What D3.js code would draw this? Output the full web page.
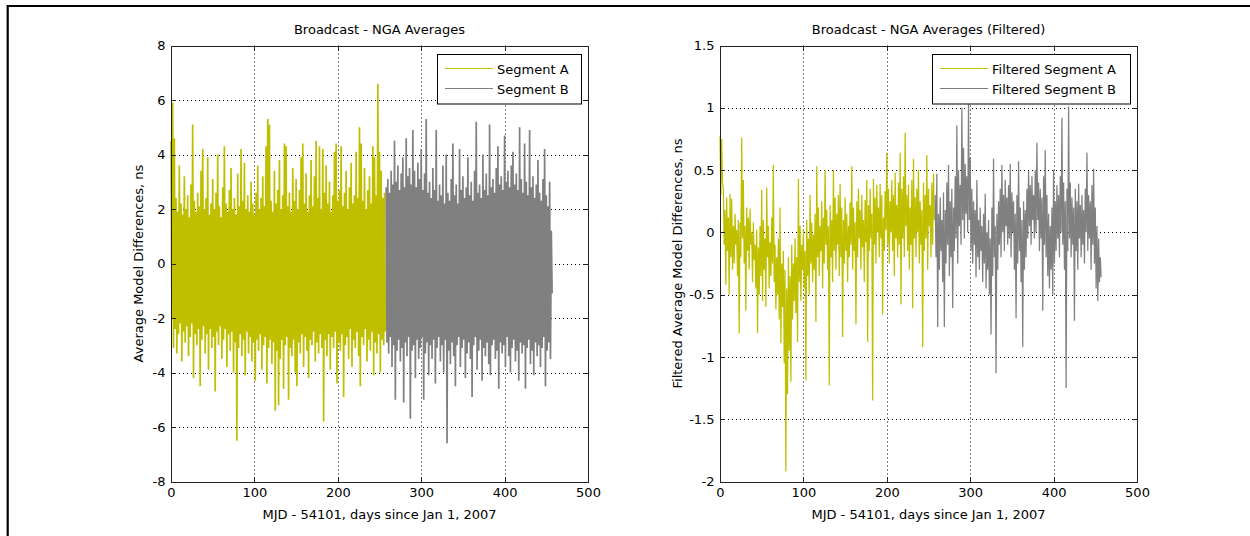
<!DOCTYPE html>
<html lang="en">
<head>
<meta charset="UTF-8">
<title>Broadcast - NGA Averages</title>
<script src="https://d3js.org/d3.v7.min.js"></script>
<style>
  body { margin: 0; background: #fff; }
  svg { display: block; font-family: "DejaVu Sans", sans-serif; }
  .grid line { stroke: #000; stroke-width: 1; stroke-dasharray: 1,3; }
  .axis path, .axis line { stroke: #222; shape-rendering: crispEdges; }
  .axis text { font-size: 13px; fill: #000; font-family: "DejaVu Sans", sans-serif; }
</style>
</head>
<body>
<svg id="chart" width="1250" height="536"></svg>
<script>
// days of each 2-day bin (bin start); each bin keeps its high and low reading
const segADays = d3.range(0, 257, 2);    // 129 bins
const segBDays = d3.range(258, 457, 2);  // 100 bins

const xTicks = [0, 100, 200, 300, 400, 500];
const yTicksLeft = [-8, -6, -4, -2, 0, 2, 4, 6, 8];
const yTicksRight = [-2, -1.5, -1, -0.5, 0, 0.5, 1, 1.5];

// Broadcast - NGA averages, segment A (high / low per bin), ns
const segAHi = [4.5,5.9,4.6,2.4,1.9,3.6,2.2,1.8,3.2,2.0,2.5,1.7,2.9,5.1,2.3,1.9,2.6,2.1,3.4,4.2,
  2.0,2.4,3.9,1.8,2.2,3.1,2.0,2.6,4.0,2.1,1.7,2.8,4.3,2.2,1.9,2.7,3.5,2.0,2.4,1.8,
  3.3,2.1,4.2,2.3,3.7,2.0,2.5,1.9,3.0,2.2,1.8,2.6,3.6,2.0,2.4,3.2,2.1,4.3,5.3,5.1,
  2.3,1.9,3.4,2.2,2.7,3.8,2.0,2.5,4.4,4.3,2.1,2.6,1.9,3.5,2.3,3.1,2.0,2.7,3.9,4.4,
  2.2,3.3,1.9,2.5,3.8,2.1,3.2,4.5,2.4,4.3,2.0,4.2,2.6,3.6,2.2,3.0,1.9,2.5,4.1,4.4,
  2.3,2.7,4.3,2.1,2.6,3.4,2.0,2.8,3.7,2.2,2.5,4.1,2.4,5.0,4.4,2.3,3.5,2.0,2.7,3.2,
  2.2,4.3,3.9,2.5,6.6,4.1,3.4,2.4,2.6];
const segALo = [-2.0,-3.1,-2.4,-3.3,-2.6,-2.2,-3.6,-2.5,-2.9,-2.3,-3.4,-2.7,-2.2,-4.2,-2.6,-3.0,-2.4,-4.5,-2.8,-2.3,
  -3.3,-2.6,-3.9,-2.4,-3.1,-2.7,-4.7,-2.5,-3.0,-2.3,-3.5,-2.8,-2.4,-3.8,-2.6,-3.2,-2.5,-4.0,-2.9,-6.5,
  -3.1,-2.6,-3.4,-2.8,-4.1,-2.5,-3.3,-2.7,-3.6,-2.9,-4.3,-2.8,-3.2,-2.6,-3.9,-3.0,-2.7,-4.4,-3.1,-2.8,
  -3.7,-2.9,-5.4,-3.2,-5.2,-3.5,-2.8,-4.6,-3.0,-2.7,-5.0,-3.1,-3.4,-2.8,-4.0,-4.5,-2.9,-3.3,-2.6,-3.8,
  -2.7,-3.2,-4.2,-2.8,-3.0,-2.5,-3.6,-2.9,-3.3,-2.6,-3.1,-5.8,-2.8,-3.4,-2.6,-3.9,-2.7,-3.1,-2.5,-4.4,
  -2.9,-3.2,-2.6,-4.9,-3.0,-2.7,-3.5,-2.4,-3.8,-2.8,-3.1,-2.5,-3.4,-4.5,-2.7,-3.0,-2.4,-3.6,-2.8,-3.2,
  -2.5,-4.1,-2.9,-3.3,-2.6,-4.0,-2.8,-3.0,-2.5];

// segment B
const segBHi = [2.8,3.1,2.6,3.4,2.9,4.5,3.0,3.6,2.7,3.3,3.9,2.8,4.6,3.2,3.5,2.9,4.9,3.4,2.8,3.7,
  3.1,4.2,2.7,3.3,5.3,2.6,3.0,2.4,3.5,2.7,4.9,2.3,2.9,2.5,3.6,2.2,4.0,2.6,2.3,3.1,
  4.4,2.5,2.9,2.2,4.2,2.7,3.2,2.4,2.8,3.9,2.5,3.0,2.3,3.4,5.2,2.6,2.9,2.4,4.0,2.7,
  3.3,2.5,5.1,2.8,3.1,2.6,3.5,4.3,2.9,3.2,2.7,4.7,3.0,3.4,2.8,3.6,4.1,2.9,3.3,2.7,
  5.0,3.1,2.6,4.4,3.0,2.5,4.9,2.8,3.2,2.4,2.9,3.8,2.6,2.3,3.1,4.2,2.5,2.1,3.0,1.2];
const segBLo = [-2.9,-3.3,-2.7,-3.8,-3.0,-5.0,-3.2,-2.8,-3.6,-3.1,-5.1,-2.9,-3.4,-2.7,-5.7,-3.2,-3.0,-4.2,-2.8,-3.5,
  -3.1,-2.7,-5.0,-3.3,-2.9,-4.1,-3.0,-3.5,-2.8,-4.4,-3.1,-2.7,-3.6,-3.0,-4.0,-2.8,-6.6,-3.2,-3.7,-2.9,
  -3.4,-4.5,-3.0,-2.7,-3.8,-3.1,-2.8,-4.2,-3.3,-2.9,-3.5,-4.9,-3.0,-2.7,-3.9,-3.2,-2.8,-4.3,-3.1,-3.4,
  -2.9,-3.7,-4.1,-3.0,-2.8,-3.5,-3.2,-4.6,-2.9,-3.3,-3.0,-3.8,-2.7,-3.4,-4.0,-3.1,-2.8,-3.6,-3.2,-4.3,
  -2.9,-3.3,-3.0,-4.6,-3.1,-2.8,-3.7,-3.2,-4.1,-2.9,-3.4,-3.0,-3.8,-3.1,-2.7,-4.5,-3.2,-2.9,-3.5,-1.1];

// filtered segment A
const filtAHi = [0.77,0.75,0.35,0.18,0.28,0.12,0.31,0.27,0.05,0.15,0.02,0.10,0.08,0.76,0.42,0.05,0.20,0.12,0.19,0.00,
  0.08,-0.10,0.02,-0.12,0.05,0.34,0.10,-0.05,0.36,0.05,-0.08,0.12,0.54,-0.10,-0.20,-0.05,0.20,-0.25,-0.15,-0.30,
  -0.45,-0.20,-0.35,-0.10,-0.25,-0.05,-0.20,0.43,0.05,-0.10,0.02,-0.15,0.10,-0.05,0.30,0.08,-0.02,0.15,0.53,0.20,
  0.05,0.25,0.12,0.50,0.18,0.05,0.22,0.10,0.50,0.28,0.15,0.30,0.39,0.20,0.10,0.28,0.15,0.05,0.24,0.53,
  0.20,0.08,0.25,0.35,0.18,0.30,0.10,0.26,0.42,0.22,0.35,0.15,0.43,0.28,0.38,0.20,0.39,0.30,0.12,0.33,
  0.64,0.35,0.25,0.42,0.30,0.48,0.22,0.40,0.64,0.35,0.45,0.80,0.30,0.38,0.20,0.42,0.59,0.28,0.35,0.50,
  0.25,0.18,0.40,0.30,0.62,0.35,0.22,0.40,0.47];
const filtALo = [0.30,0.40,-0.10,-0.42,-0.15,-0.50,-0.20,-0.30,-0.25,-0.10,-0.35,-0.81,-0.20,-0.05,-0.25,-0.63,-0.15,-0.30,-0.10,-0.40,
  -0.22,-0.45,-0.81,-0.50,-0.35,-0.55,-0.30,-0.60,-0.20,-0.45,-0.35,-0.25,-0.40,-0.62,-0.50,-0.70,-0.89,-0.60,-1.05,-1.92,
  -1.30,-0.95,-1.20,-0.70,-0.55,-0.65,-0.88,-0.40,-0.55,-0.30,-0.45,-1.19,-0.35,-0.50,-0.25,-0.40,-0.30,-0.72,-0.20,-0.35,
  -0.15,-0.45,-0.25,-0.10,-0.30,-1.23,-0.20,-0.40,-0.15,-0.30,-0.10,-0.35,-0.20,-0.84,-0.25,-0.15,-0.40,-0.20,-0.10,-0.30,
  -0.15,-0.74,-0.20,-0.05,-0.30,-0.12,-0.40,-0.08,-0.88,-0.15,-0.05,-1.35,-0.10,-0.25,0.00,-0.20,-0.05,-0.66,-0.15,0.02,
  -0.10,-0.25,0.00,-0.15,-0.35,-0.05,-0.20,-0.10,-0.58,-0.05,-0.20,0.05,-0.15,-0.30,-0.10,-0.61,-0.05,-0.20,0.00,-0.25,
  -0.10,-0.92,-0.15,-0.05,-0.30,0.05,-0.20,-0.10,0.10];

// filtered segment B
const filtBHi = [0.30,0.47,0.15,0.28,0.10,0.32,0.18,0.40,0.54,0.25,0.35,0.20,0.45,0.86,0.50,0.38,1.00,0.68,0.55,0.45,
  1.05,0.60,0.35,0.25,0.18,0.42,0.10,0.20,0.05,0.15,0.31,0.00,0.10,-0.05,0.20,0.59,0.05,0.15,0.25,0.35,
  0.54,0.30,0.42,0.28,0.38,0.55,0.32,0.25,0.15,0.30,0.57,0.20,0.10,0.25,0.18,0.35,0.49,0.38,0.45,0.30,
  0.50,0.72,0.40,0.35,0.28,0.45,0.66,0.30,0.15,0.05,0.20,0.50,0.25,0.38,0.30,0.45,0.92,0.40,0.25,0.35,
  1.01,0.40,0.28,0.20,0.35,0.25,0.39,0.22,0.30,0.18,0.35,0.64,0.30,0.25,0.38,0.51,0.20,0.05,-0.05,-0.20];
const filtBLo = [-0.20,-0.76,-0.30,-0.15,-0.40,-0.76,-0.25,-0.10,-0.35,-0.20,-0.61,-0.15,-0.05,-0.25,0.05,-0.10,0.10,-0.05,0.15,0.00,
  0.10,-0.15,-0.25,-0.10,-0.36,-0.20,-0.30,-0.15,-0.40,-0.25,-0.45,-0.30,-0.50,-0.82,-0.35,-0.20,-1.13,-0.30,-0.10,-0.20,
  0.00,-0.15,0.05,-0.10,-0.05,-0.20,0.00,-0.30,-0.69,-0.25,-0.15,-0.40,-0.92,-0.30,-0.20,-0.05,0.05,-0.10,0.10,-0.05,
  0.00,0.10,-0.15,-0.05,-0.63,-0.10,-0.20,-0.35,-0.45,-0.30,-0.50,-0.25,-0.15,-0.05,-0.20,0.00,-0.10,-0.30,-1.25,-0.15,
  -0.05,-0.20,-0.10,-0.71,-0.15,-0.30,-0.05,-0.20,-0.10,-0.25,0.00,-0.15,-0.05,-0.30,-0.10,-0.25,-0.45,-0.55,-0.40,-0.36];

const colorA = "#bfbf00";
const colorB = "#808080";

const svg = d3.select("#chart");

// figure frame
svg.append("path")
    .attr("d", "M7.7,536V6H1250")
    .attr("fill", "none")
    .attr("stroke", "#000")
    .attr("stroke-width", 2.2);

const plotTop = 45.5, plotBottom = 481.5;

const panels = [
  {
    left: 171, right: 588,
    yDomain: [-8, 8], yTicks: yTicksLeft,
    title: "Broadcast - NGA Averages",
    ylabel: "Average Model Differences, ns", ylabelX: 143,
    legendBox: [437, 581], lineWidth: 1.7,
    series: [
      { name: "Segment A", days: segADays, hi: segAHi, lo: segALo, color: colorA },
      { name: "Segment B", days: segBDays, hi: segBHi, lo: segBLo, color: colorB }
    ]
  },
  {
    left: 720, right: 1137,
    yDomain: [-2, 1.5], yTicks: yTicksRight,
    title: "Broadcast - NGA Averages (Filtered)",
    ylabel: "Filtered Average Model Differences, ns", ylabelX: 682,
    legendBox: [932, 1130], lineWidth: 1.25,
    series: [
      { name: "Filtered Segment A", days: segADays, hi: filtAHi, lo: filtALo, color: colorA },
      { name: "Filtered Segment B", days: segBDays, hi: filtBHi, lo: filtBLo, color: colorB }
    ]
  }
];

panels.forEach(p => {
  const x = d3.scaleLinear().domain([0, 500]).range([p.left, p.right]);
  const y = d3.scaleLinear().domain(p.yDomain).range([plotBottom, plotTop]);
  const g = svg.append("g");

  // dotted grid
  const grid = g.append("g").attr("class", "grid");
  grid.selectAll(".gx")
    .data(xTicks.slice(1, -1))
    .join("line")
    .attr("x1", d => Math.round(x(d)) + 0.5).attr("x2", d => Math.round(x(d)) + 0.5)
    .attr("y1", plotTop).attr("y2", plotBottom);
  grid.selectAll(".gy")
    .data(p.yTicks.slice(1, -1))
    .join("line")
    .attr("x1", p.left).attr("x2", p.right)
    .attr("y1", d => Math.round(y(d)) + 0.5).attr("y2", d => Math.round(y(d)) + 0.5);

  // data: each bin goes high then low
  const line = d3.line()
      .x(d => x(d[0]))
      .y(d => y(d[1]));

  p.series.forEach(s => {
    const pts = [];
    s.days.forEach((t, i) => {
      pts.push([t, s.hi[i]]);
      pts.push([t + 1, s.lo[i]]);
    });
    g.append("path")
      .datum(pts)
      .attr("fill", "none")
      .attr("stroke", s.color)
      .attr("stroke-width", p.lineWidth)
      .attr("stroke-linejoin", "bevel")
      .attr("d", line);
  });

  // axes, ticks pointing inwards on all four sides
  const fmt = d => String(d);
  g.append("g").attr("class", "axis")
    .attr("transform", `translate(0,${plotBottom})`)
    .call(d3.axisBottom(x).tickValues(xTicks).tickFormat(fmt).tickSizeInner(-5).tickSizeOuter(0).tickPadding(6.5));
  g.append("g").attr("class", "axis")
    .attr("transform", `translate(0,${plotTop})`)
    .call(d3.axisTop(x).tickValues(xTicks).tickFormat("").tickSizeInner(-5).tickSizeOuter(0));
  g.append("g").attr("class", "axis")
    .attr("transform", `translate(${p.left},0)`)
    .call(d3.axisLeft(y).tickValues(p.yTicks).tickFormat(fmt).tickSizeInner(-5).tickSizeOuter(0).tickPadding(5.5));
  g.append("g").attr("class", "axis")
    .attr("transform", `translate(${p.right},0)`)
    .call(d3.axisRight(y).tickValues(p.yTicks).tickFormat("").tickSizeInner(-5).tickSizeOuter(0));

  const cx = (p.left + p.right) / 2;
  g.append("text")
    .attr("x", cx).attr("y", 34)
    .attr("text-anchor", "middle")
    .attr("font-size", 13)
    .text(p.title);
  g.append("text")
    .attr("x", cx).attr("y", 519)
    .attr("text-anchor", "middle")
    .attr("font-size", 13)
    .text("MJD - 54101, days since Jan 1, 2007");
  g.append("text")
    .attr("transform", `translate(${p.ylabelX},${(plotTop + plotBottom) / 2}) rotate(-90)`)
    .attr("text-anchor", "middle")
    .attr("font-size", 13)
    .text(p.ylabel);

  // legend
  const [lx0, lx1] = p.legendBox;
  const lg = g.append("g");
  lg.append("rect")
    .attr("x", lx0 + 0.5).attr("y", 54.5)
    .attr("width", lx1 - lx0).attr("height", 49.5)
    .attr("fill", "#fff").attr("stroke", "#000");
  p.series.forEach((s, i) => {
    const ly = 68.5 + i * 20;
    lg.append("line")
      .attr("x1", lx0 + 8).attr("x2", lx0 + 56)
      .attr("y1", ly).attr("y2", ly)
      .attr("stroke", s.color);
    lg.append("text")
      .attr("x", lx0 + 60).attr("y", ly + 5)
      .attr("font-size", 13)
      .text(s.name);
  });
});
</script>
</body>
</html>
